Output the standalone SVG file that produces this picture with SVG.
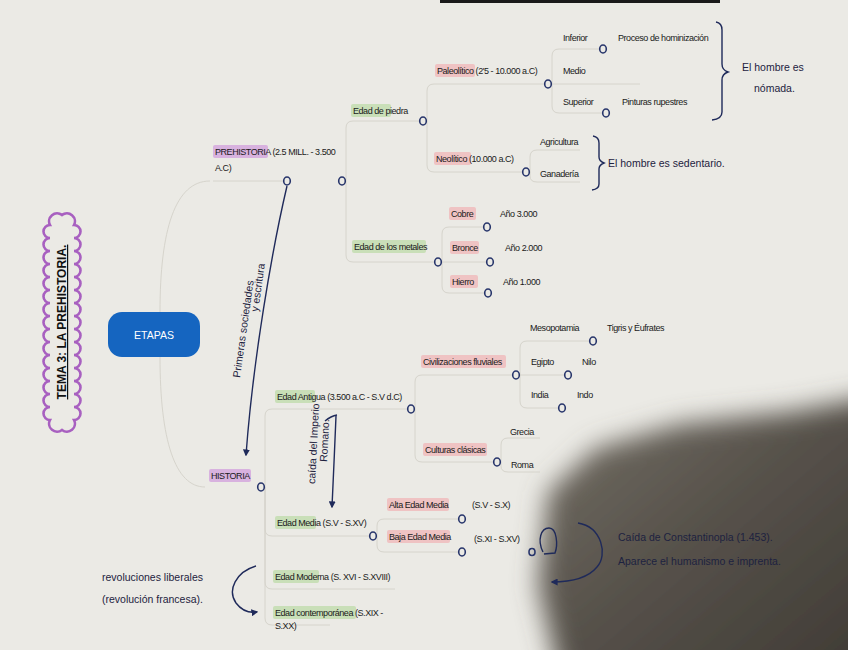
<svg xmlns="http://www.w3.org/2000/svg" width="848" height="650" viewBox="0 0 848 650">
<defs>
<style>
.t{font-family:"Liberation Sans",Arial,sans-serif;font-size:9px;letter-spacing:-0.45px;fill:#1a1a1a}
.h{font-family:"Liberation Sans",Arial,sans-serif;font-size:10.5px;fill:#1d2240}
.hp{fill:#d8b2df}
.hg{fill:#c9dfb8}
.hr{fill:#efc3c3}
.dot{fill:none;stroke:#27356b;stroke-width:1.6}
.conn{fill:none;stroke:#d6d4cc;stroke-width:1}
.ink{fill:none;stroke:#1f2a5a;stroke-width:1.4}
</style>
<marker id="ah" viewBox="0 0 10 10" refX="8" refY="5" markerWidth="7" markerHeight="7" orient="auto-start-reverse" markerUnits="userSpaceOnUse">
<path d="M0,0 L10,5 L0,10 z" fill="#1f2a5a"/>
</marker>
<linearGradient id="sh" x1="0" y1="0" x2="1" y2="1">
<stop offset="0" stop-color="#767167"/>
<stop offset="0.45" stop-color="#56514a"/>
<stop offset="1" stop-color="#3a3630"/>
</linearGradient>
<filter id="blur" filterUnits="userSpaceOnUse" x="0" y="0" width="848" height="650"><feGaussianBlur stdDeviation="13"/></filter>
</defs>
<rect width="848" height="650" fill="#ebeae5"/>
<path d="M440,0 H720 V3 H440 z" fill="#1a1a1a"/>
<path d="M565,700 L538,585 L548,492 L596,448 L680,424 L790,412 L900,392 L900,700 z" fill="url(#sh)" filter="url(#blur)"/>

<g id="title">
<path d="M50,420 a6.5,6.5 0 0 1 0,-13 a6.5,6.5 0 0 1 0,-13 a6.5,6.5 0 0 1 0,-13 a6.5,6.5 0 0 1 0,-13 a6.5,6.5 0 0 1 0,-13 a6.5,6.5 0 0 1 0,-13 a6.5,6.5 0 0 1 0,-13 a6.5,6.5 0 0 1 0,-13 a6.5,6.5 0 0 1 0,-13 a6.5,6.5 0 0 1 0,-13 a6.5,6.5 0 0 1 0,-13 a6.5,6.5 0 0 1 0,-13 a6.5,6.5 0 0 1 0,-13 a6.5,6.5 0 0 1 0,-13 a6.5,6.5 0 0 1 0,-13 a8,8 0 0 1 12,-10 a8,8 0 0 1 12,10 a6.5,6.5 0 0 1 0,13 a6.5,6.5 0 0 1 0,13 a6.5,6.5 0 0 1 0,13 a6.5,6.5 0 0 1 0,13 a6.5,6.5 0 0 1 0,13 a6.5,6.5 0 0 1 0,13 a6.5,6.5 0 0 1 0,13 a6.5,6.5 0 0 1 0,13 a6.5,6.5 0 0 1 0,13 a6.5,6.5 0 0 1 0,13 a6.5,6.5 0 0 1 0,13 a6.5,6.5 0 0 1 0,13 a6.5,6.5 0 0 1 0,13 a6.5,6.5 0 0 1 0,13 a6.5,6.5 0 0 1 0,13 a8,8 0 0 1 -12,10 a8,8 0 0 1 -12,-10 z" fill="none" stroke="#a860c0" stroke-width="2.6"/>
<text transform="translate(66,322) rotate(-90)" text-anchor="middle" font-family="Liberation Sans,Arial,sans-serif" font-size="12" font-weight="bold" text-decoration="underline" fill="#111">TEMA 3: LA PREHISTORIA.</text>
</g>

<g id="etapas">
<rect x="108" y="312" width="92" height="45" rx="14" fill="#1565c0"/>
<text x="154" y="338.500" text-anchor="middle" font-family="Liberation Sans,Arial,sans-serif" font-size="10.5" fill="#fff">ETAPAS</text>
</g>

<g id="connectors">
<path class="conn" d="M160,312 C160,230 175,181 210,181"/>
<path class="conn" d="M160,357 C160,440 175,487 205,487"/>
<path class="conn" d="M213,181 H283"/>
<path class="conn" d="M346,181 V128 Q346,121 353,121 H419"/>
<path class="conn" d="M346,181 V255 Q346,262 353,262 H434"/>
<path class="conn" d="M427,121 V91 Q427,84 434,84 H544"/>
<path class="conn" d="M427,121 V165 Q427,172 434,172 H522"/>
<path class="conn" d="M552,84 V56 Q552,49 559,49 H599"/>
<path class="conn" d="M552,84 V84 H640"/>
<path class="conn" d="M552,84 V106 Q552,113 559,113 H602"/>
<path class="conn" d="M530,172 V157 Q530,150 537,150 H580"/>
<path class="conn" d="M530,172 V176 Q530,182 537,182 H580"/>
<path class="conn" d="M442,262 V234 Q442,227 449,227 H483"/>
<path class="conn" d="M442,262 H486"/>
<path class="conn" d="M442,262 V286 Q442,293 449,293 H484"/>
<path class="conn" d="M265,487 V416 Q265,409 272,409 H407"/>
<path class="conn" d="M265,487 V529 Q265,536 272,536 H369"/>
<path class="conn" d="M265,487 V582 Q265,589 272,589 H395"/>
<path class="conn" d="M265,487 V618 Q265,625 272,625 H330"/>
<path class="conn" d="M415,409 V382 Q415,375 422,375 H512"/>
<path class="conn" d="M415,409 V455 Q415,462 422,462 H493"/>
<path class="conn" d="M520,375 V348 Q520,341 527,341 H589"/>
<path class="conn" d="M520,375 H564"/>
<path class="conn" d="M520,375 V401 Q520,408 527,408 H558"/>
<path class="conn" d="M501,462 V445 Q501,438 508,438 H540"/>
<path class="conn" d="M501,462 V466 Q501,472 508,472 H540"/>
<path class="conn" d="M377,536 V526 Q377,519 384,519 H458"/>
<path class="conn" d="M377,536 V545 Q377,552 384,552 H458"/>
<path class="ink" d="M287,186 C272,250 253,360 246,455" marker-end="url(#ah)"/>
<path class="ink" d="M336,416 C335,445 333,480 332,507" marker-end="url(#ah)"/>
<path class="ink" d="M325,421 Q331,416 337,415"/>
<path class="ink" d="M256,566 C236,572 227,590 236,603 C242,611 250,613 257,612" marker-end="url(#ah)"/>
<path class="ink" d="M578,523 C602,527 608,555 597,567 C588,578 570,582 552,582" marker-end="url(#ah)"/>
<path class="ink" d="M543,552 C537,540 541,528 549,528 C557,528 558,545 555,553 L544,554"/>
<path class="ink" d="M716,22 Q722,23 722,30 V64 Q722,70 728,72 Q722,74 722,80 V112 Q722,119 712,120"/>
<path class="ink" d="M593,136 Q599,137 599,143 V157 Q599,161 604,163 Q599,165 599,169 V184 Q599,189 592,190"/>
</g>

<g id="prehistoria">
<rect class="hp" x="213" y="145" width="55" height="13" rx="2"/>
<text class="t" x="215" y="155">PREHISTORIA (2.5 MILL. - 3.500</text>
<text class="t" x="215" y="171">A.C)</text>
<ellipse class="dot" cx="287" cy="181" rx="3.3" ry="4"/>
<ellipse class="dot" cx="342" cy="181" rx="3.3" ry="4"/>
</g>

<g id="edad-piedra">
<rect class="hg" x="351" y="104" width="40" height="13" rx="2"/>
<text class="t" x="353" y="114">Edad de piedra</text>
<ellipse class="dot" cx="423" cy="121" rx="3.3" ry="4"/>
</g>
<g id="paleolitico">
<rect class="hr" x="435" y="64" width="40" height="13" rx="2"/>
<text class="t" x="437" y="74">Paleolítico (2'5 - 10.000 a.C)</text>
<ellipse class="dot" cx="548" cy="84" rx="3.3" ry="4"/>
</g>
<g id="inferior">
<text class="t" x="563" y="41">Inferior</text>
<text class="t" x="618" y="41">Proceso de hominización</text>
<ellipse class="dot" cx="603" cy="49" rx="3.3" ry="4"/>
</g>
<g id="medio"><text class="t" x="563" y="74">Medio</text></g>
<g id="superior">
<text class="t" x="563" y="105">Superior</text>
<text class="t" x="622" y="105">Pinturas rupestres</text>
<ellipse class="dot" cx="606" cy="113" rx="3.3" ry="4"/>
</g>
<g id="nomada">
<text class="h" x="742" y="71">El hombre es</text>
<text class="h" x="754" y="92">nómada.</text>
</g>
<g id="neolitico">
<rect class="hr" x="434" y="152" width="37" height="13" rx="2"/>
<text class="t" x="436" y="162">Neolítico (10.000 a.C)</text>
<ellipse class="dot" cx="526" cy="172" rx="3.3" ry="4"/>
</g>
<g id="agricultura"><text class="t" x="540" y="145">Agricultura</text></g>
<g id="ganaderia"><text class="t" x="540" y="177">Ganadería</text></g>
<g id="sedentario"><text class="h" x="608" y="167">El hombre es  sedentario.</text></g>

<g id="edad-metales">
<rect class="hg" x="352" y="240" width="74" height="13" rx="2"/>
<text class="t" x="354" y="250">Edad de los metales</text>
<ellipse class="dot" cx="438" cy="262" rx="3.3" ry="4"/>
</g>
<g id="cobre">
<rect class="hr" x="449" y="207" width="27" height="13" rx="2"/>
<text class="t" x="451" y="217">Cobre</text>
<text class="t" x="500" y="217">Año 3.000</text>
<ellipse class="dot" cx="487" cy="227" rx="3.3" ry="4"/>
</g>
<g id="bronce">
<rect class="hr" x="450" y="241" width="29" height="13" rx="2"/>
<text class="t" x="452" y="251">Bronce</text>
<text class="t" x="505" y="251">Año 2.000</text>
<ellipse class="dot" cx="490" cy="262" rx="3.3" ry="4"/>
</g>
<g id="hierro">
<rect class="hr" x="450" y="275" width="28" height="13" rx="2"/>
<text class="t" x="452" y="285">Hierro</text>
<text class="t" x="503" y="285">Año 1.000</text>
<ellipse class="dot" cx="488" cy="293" rx="3.3" ry="4"/>
</g>

<g id="nota-sociedades">
<text class="h" font-size="11.5" transform="translate(240,378) rotate(-82)">Primeras sociedades</text>
<text class="h" font-size="11.5" transform="translate(258,312) rotate(-82)">y escritura</text>
</g>

<g id="historia">
<rect class="hp" x="209" y="469" width="42" height="13" rx="2"/>
<text class="t" x="211" y="479">HISTORIA</text>
<ellipse class="dot" cx="261" cy="487" rx="3.3" ry="4"/>
</g>
<g id="edad-antigua">
<rect class="hg" x="275" y="390" width="40" height="13" rx="2"/>
<text class="t" x="277" y="400">Edad Antigua (3.500 a.C - S.V d.C)</text>
<ellipse class="dot" cx="411" cy="409" rx="3.3" ry="4"/>
</g>
<g id="civilizaciones">
<rect class="hr" x="421" y="355" width="85" height="13" rx="2"/>
<text class="t" x="423" y="365">Civilizaciones fluviales</text>
<ellipse class="dot" cx="516" cy="375" rx="3.3" ry="4"/>
</g>
<g id="mesopotamia">
<text class="t" x="530" y="331">Mesopotamia</text>
<text class="t" x="607" y="331">Tigris y Éufrates</text>
<ellipse class="dot" cx="593" cy="341" rx="3.3" ry="4"/>
</g>
<g id="egipto">
<text class="t" x="531" y="365">Egipto</text>
<text class="t" x="582" y="365">Nilo</text>
<ellipse class="dot" cx="568" cy="375" rx="3.3" ry="4"/>
</g>
<g id="india">
<text class="t" x="531" y="398">India</text>
<text class="t" x="577" y="398">Indo</text>
<ellipse class="dot" cx="562" cy="408" rx="3.3" ry="4"/>
</g>
<g id="culturas">
<rect class="hr" x="423" y="443" width="64" height="13" rx="2"/>
<text class="t" x="425" y="453">Culturas clásicas</text>
<ellipse class="dot" cx="497" cy="462" rx="3.3" ry="4"/>
</g>
<g id="grecia"><text class="t" x="510" y="435">Grecia</text></g>
<g id="roma"><text class="t" x="511" y="468">Roma</text></g>

<g id="nota-imperio">
<text class="h" font-size="9.5" transform="translate(315,484) rotate(-87)">caída del Imperio</text>
<text class="h" font-size="9.5" transform="translate(327,462) rotate(-87)">Romano.</text>
</g>

<g id="edad-media">
<rect class="hg" x="275" y="516" width="41" height="13" rx="2"/>
<text class="t" x="277" y="526">Edad Media (S.V - S.XV)</text>
<ellipse class="dot" cx="373" cy="536" rx="3.3" ry="4"/>
</g>
<g id="alta-edad-media">
<rect class="hr" x="387" y="498" width="62" height="13" rx="2"/>
<text class="t" x="389" y="508">Alta Edad Media</text>
<text class="t" x="472" y="508">(S.V - S.X)</text>
<ellipse class="dot" cx="462" cy="519" rx="3.3" ry="4"/>
</g>
<g id="baja-edad-media">
<rect class="hr" x="387" y="530" width="63" height="13" rx="2"/>
<text class="t" x="389" y="540">Baja Edad Media</text>
<text class="t" x="474" y="542">(S.XI - S.XV)</text>
<ellipse class="dot" cx="462" cy="552" rx="3.3" ry="4"/>
<ellipse class="dot" cx="532" cy="552" rx="3" ry="3.5"/>
</g>
<g id="nota-constantinopla">
<text class="h" x="618" y="541" fill="#15161c">Caída de Constantinopla (1.453).</text>
<text class="h" x="618" y="565" fill="#15161c">Aparece el humanismo e imprenta.</text>
</g>
<g id="edad-moderna">
<rect class="hg" x="273" y="570" width="46" height="13" rx="2"/>
<text class="t" x="275" y="580">Edad Moderna (S. XVI - S.XVIII)</text>
</g>
<g id="edad-contemporanea">
<rect class="hg" x="273" y="606" width="83" height="13" rx="2"/>
<text class="t" x="275" y="616">Edad contemporánea (S.XIX -</text>
<text class="t" x="275" y="629">S.XX)</text>
</g>
<g id="nota-revoluciones">
<text class="h" x="102" y="581">revoluciones liberales</text>
<text class="h" x="102" y="603">(revolución francesa).</text>
</g>
</svg>
